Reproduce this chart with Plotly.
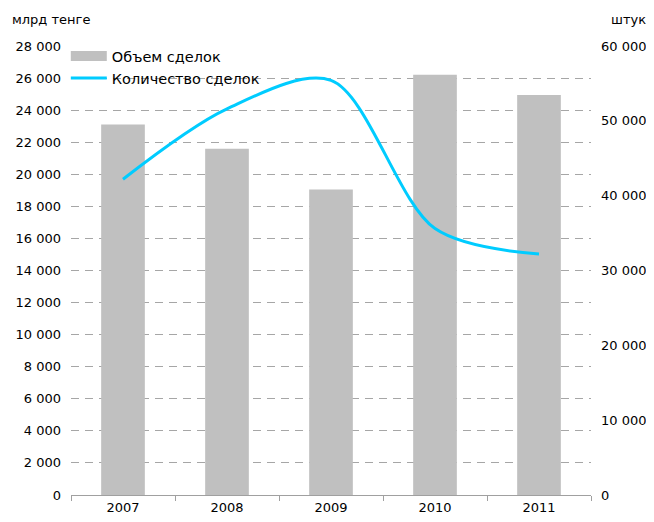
import plotly.graph_objects as go

years = ["2007", "2008", "2009", "2010", "2011"]
volume = [23100, 21600, 19050, 26200, 24950]      # млрд тенге
deals = [42200, 51600, 55400, 35600, 32200]        # штук

BAR_COLOR = "#C0C0C0"
LINE_COLOR = "#00CCFF"

fig = go.Figure()
fig.add_trace(go.Bar(x=years, y=volume, name="Объем сделок",
                     marker=dict(color=BAR_COLOR, line=dict(width=0)),
                     width=0.42, yaxis="y", showlegend=False))
# legend entry drawn as a wide gray band, like the reference
fig.add_trace(go.Scatter(x=[None], y=[None], name="Объем сделок", mode="lines",
                         line=dict(color=BAR_COLOR, width=10), yaxis="y"))
fig.add_trace(go.Scatter(x=years, y=deals, name="Количество сделок",
                         mode="lines", line=dict(color=LINE_COLOR, width=3, shape="spline", smoothing=0.9),
                         yaxis="y2"))

font = dict(family="DejaVu Sans, Verdana, sans-serif", size=13, color="#000000")
# page body adds an 8px offset, so the figure is 8px smaller and margins compensate
fig.update_layout(
    width=646, height=514,
    margin=dict(l=63, r=63, t=38, b=27),
    plot_bgcolor="white", paper_bgcolor="white",
    font=font,
    separators=", ",
    showlegend=True,
    legend=dict(x=-0.01, y=1.013, xanchor="left", yanchor="top", bgcolor="rgba(0,0,0,0)",
                font=dict(family=font["family"], size=14.5, color="#000000"),
                tracegroupgap=0, itemwidth=36),
    xaxis=dict(type="category", showline=True, linecolor="#A0A0A0", linewidth=1,
               ticks="outside", tickson="boundaries", ticklen=5, tickcolor="#A0A0A0",
               showgrid=False, tickfont=font, automargin=False),
    yaxis=dict(range=[0, 28000], dtick=2000, tickformat=",d", showgrid=True,
               gridcolor="#A6A6A6", griddash="8px,6px", gridwidth=1, zeroline=False,
               showline=False, ticks="", tickfont=font, automargin=False, ticklabelstandoff=9),
    yaxis2=dict(range=[0, 60000], dtick=10000, tickformat=",d", overlaying="y", side="right",
                showgrid=False, zeroline=False, showline=False, ticks="", tickfont=font,
                automargin=False, ticklabelstandoff=9),
    annotations=[
        dict(text="млрд тенге", xref="paper", yref="paper", x=-0.117, y=1.058, xanchor="left", yanchor="middle",
             showarrow=False, font=font),
        dict(text="штук", xref="paper", yref="paper", x=1.11, y=1.058, xanchor="right", yanchor="middle",
             showarrow=False, font=font),
    ],
)
fig.write_html("out.html")
